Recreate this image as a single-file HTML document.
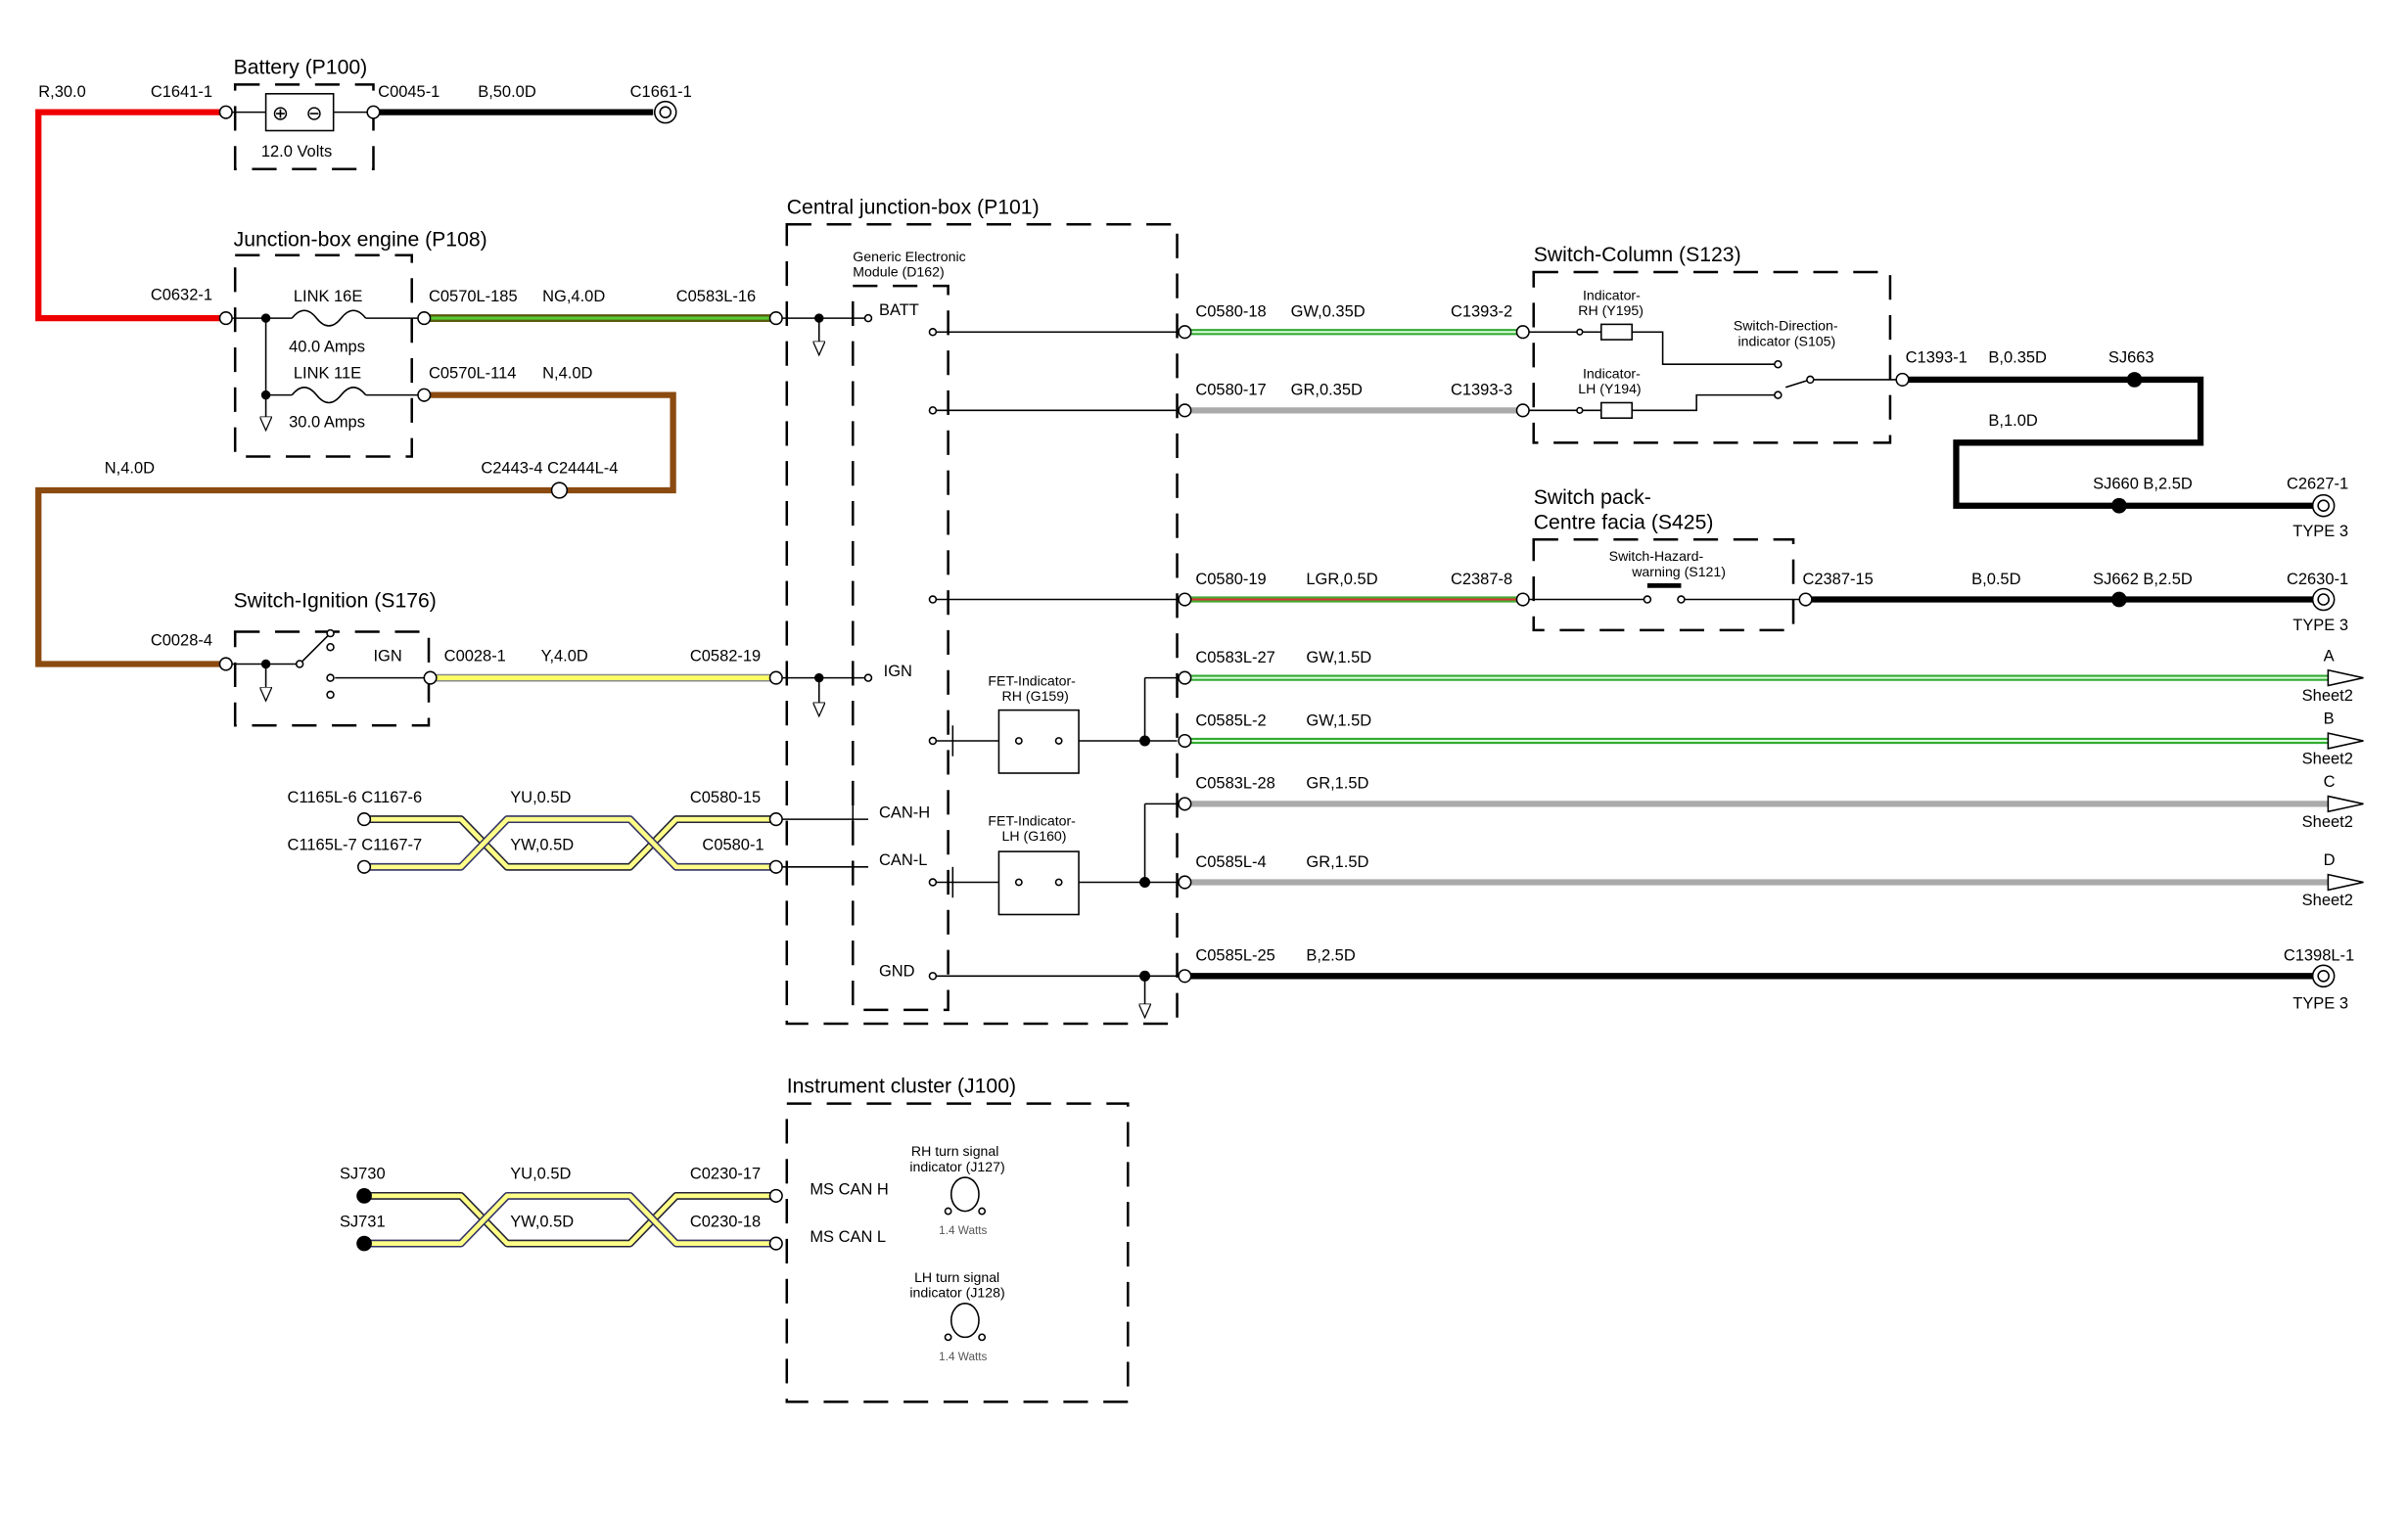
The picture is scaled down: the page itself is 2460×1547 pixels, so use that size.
<!DOCTYPE html>
<html><head><meta charset="utf-8"><style>
html,body{margin:0;padding:0;background:#fff}
svg{display:block}
text{font-family:"Liberation Sans",sans-serif;font-size:10.5px;fill:#000}
.t{font-size:13.5px}
.s{font-size:9px}
.xs{font-size:7.5px;fill:#555}
.d{fill:none;stroke:#000;stroke-width:1.6;stroke-dasharray:16,10}
.l{fill:none;stroke:#000;stroke-width:1}
.c{fill:#fff;stroke:#000;stroke-width:1}
</style></head><body>
<svg width="2460" height="1547" viewBox="0 0 1567 985" preserveAspectRatio="none" xmlns="http://www.w3.org/2000/svg">
<defs>
<marker id="ar" markerWidth="10" markerHeight="8" refX="9" refY="4" orient="auto" markerUnits="userSpaceOnUse"><path d="M0,0 L9,4 L0,8 Z" fill="#fff" stroke="#000" stroke-width="0.8"/></marker>
</defs>
<!-- Battery -->
<text x="152" y="48" class="t">Battery (P100)</text>
<path class="d" d="M153,55 H243 V110 H153 Z"/>
<rect x="173" y="61" width="44" height="24" class="c"/>
<text x="177" y="78" style="font-size:13px">⊕</text><text x="199" y="78" style="font-size:13px">⊖</text>
<line class="l" x1="150" y1="73" x2="173" y2="73"/><line class="l" x1="217" y1="73" x2="240" y2="73"/>
<text x="170" y="102">12.0 Volts</text>
<text x="25" y="63">R,30.0</text><text x="98" y="63">C1641-1</text>
<path d="M146,73 H25 V207 H146" fill="none" stroke="#e00" stroke-width="4"/>
<text x="246" y="63">C0045-1</text><text x="311" y="63">B,50.0D</text><text x="410" y="63">C1661-1</text>
<line x1="243" y1="73" x2="425" y2="73" stroke="#000" stroke-width="4"/>
<circle cx="433" cy="73" r="7" class="c"/><circle cx="433" cy="73" r="3.5" class="c"/>
<!-- Junction box engine -->
<text x="152" y="160" class="t">Junction-box engine (P108)</text>
<path class="d" d="M153,166 H268 V297 H153 Z"/>
<text x="98" y="195">C0632-1</text>
<line class="l" x1="150" y1="207" x2="190" y2="207"/>
<path class="l" d="M190,207 q8,-10 16,0 q8,10 16,0 q8,-10 16,0"/><line class="l" x1="238" y1="207" x2="273" y2="207"/>
<text x="191" y="196">LINK 16E</text><text x="188" y="229">40.0 Amps</text>
<line class="l" x1="173" y1="207" x2="173" y2="280" marker-end="url(#ar)"/>
<circle cx="173" cy="207" r="3" fill="#000"/>
<line class="l" x1="173" y1="257" x2="190" y2="257"/>
<path class="l" d="M190,257 q8,-10 16,0 q8,10 16,0 q8,-10 16,0"/><line class="l" x1="238" y1="257" x2="273" y2="257"/>
<circle cx="173" cy="257" r="3" fill="#000"/>
<text x="191" y="246">LINK 11E</text><text x="188" y="278">30.0 Amps</text>
<line x1="276" y1="207" x2="505" y2="207" stroke="#5a5a10" stroke-width="5"/>
<line x1="276" y1="207" x2="505" y2="207" stroke="#5c3" stroke-width="2"/>
<text x="279" y="196">C0570L-185</text><text x="353" y="196">NG,4.0D</text><text x="440" y="196">C0583L-16</text>
<path d="M276,257 H438 V319 H367 M360,319 H25 V432 H146" fill="none" stroke="#8b4a10" stroke-width="4"/>
<text x="279" y="246">C0570L-114</text><text x="353" y="246">N,4.0D</text>
<text x="313" y="308">C2443-4 C2444L-4</text><text x="68" y="308">N,4.0D</text>
<circle cx="364" cy="319" r="5" class="c"/>
<!-- Ignition -->
<text x="152" y="395" class="t">Switch-Ignition (S176)</text>
<path class="d" d="M153,411 H279 V472 H153 Z"/>
<text x="98" y="420">C0028-4</text>
<line class="l" x1="150" y1="432" x2="195" y2="432"/>
<line class="l" x1="173" y1="432" x2="173" y2="456" marker-end="url(#ar)"/><circle cx="173" cy="432" r="3" fill="#000"/>
<line class="l" x1="195" y1="432" x2="215" y2="412"/>
<circle cx="195" cy="432" r="2.2" class="c"/><circle cx="215" cy="412" r="2.2" class="c"/><circle cx="215" cy="421" r="2.2" class="c"/><circle cx="215" cy="441" r="2.2" class="c"/><circle cx="215" cy="452" r="2.2" class="c"/>
<line class="l" x1="218" y1="441" x2="280" y2="441"/>
<text x="243" y="430">IGN</text>
<text x="289" y="430">C0028-1</text><text x="352" y="430">Y,4.0D</text><text x="449" y="430">C0582-19</text>
<line x1="283" y1="441" x2="505" y2="441" stroke="#888" stroke-width="5"/>
<line x1="283" y1="441" x2="505" y2="441" stroke="#ff6" stroke-width="3"/>
<!-- CAN twisted -->
<text x="187" y="522">C1165L-6 C1167-6</text><text x="187" y="553">C1165L-7 C1167-7</text>
<text x="332" y="522">YU,0.5D</text><text x="332" y="553">YW,0.5D</text>
<text x="449" y="522">C0580-15</text><text x="457" y="553">C0580-1</text>
<g fill="none" stroke-linejoin="round">
<path d="M240,533 H300 L330,564 H410 L440,533 H505" stroke="#223" stroke-width="5"/>
<path d="M240,533 H300 L330,564 H410 L440,533 H505" stroke="#ff8" stroke-width="3"/>
<path d="M240,564 H300 L330,533 H410 L440,564 H505" stroke="#336" stroke-width="5"/>
<path d="M240,564 H300 L330,533 H410 L440,564 H505" stroke="#ff8" stroke-width="3"/>
</g>
<!-- Central junction box -->
<text x="512" y="139" class="t">Central junction-box (P101)</text>
<path class="d" d="M512,146 H766 V666 H512 Z"/>
<path class="d" d="M555,186 H617 V657 H555 Z"/>
<text x="555" y="170" class="s">Generic Electronic</text><text x="555" y="180" class="s">Module (D162)</text>
<text x="572" y="205">BATT</text>
<line class="l" x1="508" y1="207" x2="563" y2="207"/><circle cx="565" cy="207" r="2.2" class="c"/>
<line class="l" x1="533" y1="207" x2="533" y2="231" marker-end="url(#ar)"/><circle cx="533" cy="207" r="3" fill="#000"/>
<line class="l" x1="607" y1="216" x2="766" y2="216"/><circle cx="607" cy="216" r="2.2" class="c"/>
<line class="l" x1="607" y1="267" x2="766" y2="267"/><circle cx="607" cy="267" r="2.2" class="c"/>
<line class="l" x1="607" y1="390" x2="766" y2="390"/><circle cx="607" cy="390" r="2.2" class="c"/>
<text x="575" y="440">IGN</text>
<line class="l" x1="508" y1="441" x2="563" y2="441"/><circle cx="565" cy="441" r="2.2" class="c"/>
<line class="l" x1="533" y1="441" x2="533" y2="466" marker-end="url(#ar)"/><circle cx="533" cy="441" r="3" fill="#000"/>
<text x="643" y="446" class="s">FET-Indicator-</text><text x="652" y="456" class="s">RH (G159)</text>
<rect x="650" y="462" width="52" height="41" class="c"/>
<circle cx="663" cy="482" r="2" class="c"/><circle cx="689" cy="482" r="2" class="c"/>
<line class="l" x1="607" y1="482" x2="650" y2="482"/><circle cx="607" cy="482" r="2.2" class="c"/>
<line class="l" x1="620" y1="472" x2="620" y2="492"/>
<line class="l" x1="702" y1="482" x2="766" y2="482"/>
<line class="l" x1="745" y1="441" x2="745" y2="482"/><line class="l" x1="745" y1="441" x2="766" y2="441"/>
<circle cx="745" cy="482" r="3.5" fill="#000"/>
<text x="572" y="532">CAN-H</text><text x="572" y="563">CAN-L</text>
<line class="l" x1="508" y1="533" x2="565" y2="533"/><line class="l" x1="508" y1="564" x2="565" y2="564"/>
<line class="l" x1="555" y1="523" x2="555" y2="545"/>
<text x="643" y="537" class="s">FET-Indicator-</text><text x="652" y="547" class="s">LH (G160)</text>
<rect x="650" y="554" width="52" height="41" class="c"/>
<circle cx="663" cy="574" r="2" class="c"/><circle cx="689" cy="574" r="2" class="c"/>
<line class="l" x1="607" y1="574" x2="650" y2="574"/><circle cx="607" cy="574" r="2.2" class="c"/>
<line class="l" x1="620" y1="564" x2="620" y2="584"/>
<line class="l" x1="702" y1="574" x2="766" y2="574"/>
<line class="l" x1="745" y1="523" x2="745" y2="574"/><line class="l" x1="745" y1="523" x2="766" y2="523"/>
<circle cx="745" cy="574" r="3.5" fill="#000"/>
<text x="572" y="635">GND</text>
<line class="l" x1="607" y1="635" x2="766" y2="635"/><circle cx="607" cy="635" r="2.2" class="c"/>
<line class="l" x1="745" y1="635" x2="745" y2="662" marker-end="url(#ar)"/><circle cx="745" cy="635" r="3.5" fill="#000"/>
<g>
<circle cx="505" cy="207" r="4" class="c"/><circle cx="505" cy="441" r="4" class="c"/><circle cx="505" cy="533" r="4" class="c"/><circle cx="505" cy="564" r="4" class="c"/>
<circle cx="147" cy="73" r="4" class="c"/><circle cx="243" cy="73" r="4" class="c"/><circle cx="147" cy="207" r="4" class="c"/><circle cx="276" cy="207" r="4" class="c"/><circle cx="276" cy="257" r="4" class="c"/><circle cx="147" cy="432" r="4" class="c"/><circle cx="280" cy="441" r="4" class="c"/>
<circle cx="237" cy="533" r="4" class="c"/><circle cx="237" cy="564" r="4" class="c"/>
</g>
<!-- Right side -->
<text x="778" y="206">C0580-18</text><text x="840" y="206">GW,0.35D</text><text x="944" y="206">C1393-2</text>
<line x1="771" y1="216" x2="991" y2="216" stroke="#3a3" stroke-width="4"/><line x1="771" y1="216" x2="991" y2="216" stroke="#dfd" stroke-width="1.3"/>
<text x="778" y="257">C0580-17</text><text x="840" y="257">GR,0.35D</text><text x="944" y="257">C1393-3</text>
<line x1="771" y1="267" x2="991" y2="267" stroke="#aaa" stroke-width="4"/>
<text x="998" y="170" class="t">Switch-Column (S123)</text>
<path class="d" d="M998,177 H1230 V288 H998 Z"/>
<text x="1030" y="195" class="s">Indicator-</text><text x="1027" y="205" class="s">RH (Y195)</text>
<text x="1030" y="246" class="s">Indicator-</text><text x="1027" y="256" class="s">LH (Y194)</text>
<text x="1128" y="215" class="s">Switch-Direction-</text><text x="1131" y="225" class="s">indicator (S105)</text>
<path class="l" d="M994,216 H1042 M1062,216 H1082 V237 H1157"/>
<rect x="1042" y="211" width="20" height="10" class="c"/>
<path class="l" d="M994,267 H1042 M1062,267 H1104 V257 H1157"/>
<rect x="1042" y="262" width="20" height="10" class="c"/>
<circle cx="1028" cy="216" r="1.8" class="c"/><circle cx="1028" cy="267" r="1.8" class="c"/>
<circle cx="1157" cy="237" r="2.2" class="c"/><circle cx="1157" cy="257" r="2.2" class="c"/>
<line class="l" x1="1162" y1="252" x2="1178" y2="247"/><line class="l" x1="1178" y1="247" x2="1238" y2="247"/><circle cx="1178" cy="247" r="2.2" class="c"/>
<text x="1240" y="236">C1393-1</text><text x="1294" y="236">B,0.35D</text><text x="1372" y="236">SJ663</text>
<path d="M1240,247 H1432 V288 H1273 V329 H1505" fill="none" stroke="#000" stroke-width="4"/>
<text x="1294" y="277">B,1.0D</text><text x="1362" y="318">SJ660 B,2.5D</text><text x="1488" y="318">C2627-1</text><text x="1492" y="349">TYPE 3</text>
<circle cx="1389" cy="247" r="5" fill="#000"/><circle cx="1379" cy="329" r="5" fill="#000"/>
<circle cx="1512" cy="329" r="7" class="c"/><circle cx="1512" cy="329" r="3.5" class="c"/>
<text x="778" y="380">C0580-19</text><text x="850" y="380">LGR,0.5D</text><text x="944" y="380">C2387-8</text>
<line x1="771" y1="390" x2="991" y2="390" stroke="#4a3" stroke-width="4"/><line x1="771" y1="390" x2="991" y2="390" stroke="#d33" stroke-width="1.3"/>
<text x="998" y="328" class="t">Switch pack-</text><text x="998" y="344" class="t">Centre facia (S425)</text>
<path class="d" d="M998,351 H1167 V410 H998 Z"/>
<text x="1047" y="365" class="s">Switch-Hazard-</text><text x="1062" y="375" class="s">warning (S121)</text>
<line x1="1072" y1="381" x2="1094" y2="381" stroke="#000" stroke-width="3"/>
<path class="l" d="M994,390 H1070 M1096,390 H1175"/>
<circle cx="1072" cy="390" r="2.2" class="c"/><circle cx="1094" cy="390" r="2.2" class="c"/>
<text x="1173" y="380">C2387-15</text><text x="1283" y="380">B,0.5D</text><text x="1362" y="380">SJ662 B,2.5D</text><text x="1488" y="380">C2630-1</text><text x="1492" y="410">TYPE 3</text>
<line x1="1178" y1="390" x2="1505" y2="390" stroke="#000" stroke-width="4"/>
<circle cx="1379" cy="390" r="5" fill="#000"/>
<circle cx="1512" cy="390" r="7" class="c"/><circle cx="1512" cy="390" r="3.5" class="c"/>
<text x="778" y="431">C0583L-27</text><text x="850" y="431">GW,1.5D</text><text x="1512" y="430">A</text><text x="1498" y="456">Sheet2</text>
<line x1="771" y1="441" x2="1518" y2="441" stroke="#3a3" stroke-width="4"/><line x1="771" y1="441" x2="1518" y2="441" stroke="#dfd" stroke-width="1.3"/>
<path d="M1515,436 L1538,441 L1515,446 Z" class="c"/>
<text x="778" y="472">C0585L-2</text><text x="850" y="472">GW,1.5D</text><text x="1512" y="471">B</text><text x="1498" y="497">Sheet2</text>
<line x1="771" y1="482" x2="1518" y2="482" stroke="#3a3" stroke-width="4"/><line x1="771" y1="482" x2="1518" y2="482" stroke="#dfd" stroke-width="1.3"/>
<path d="M1515,477 L1538,482 L1515,487 Z" class="c"/>
<text x="778" y="513">C0583L-28</text><text x="850" y="513">GR,1.5D</text><text x="1512" y="512">C</text><text x="1498" y="538">Sheet2</text>
<line x1="771" y1="523" x2="1518" y2="523" stroke="#aaa" stroke-width="4"/>
<path d="M1515,518 L1538,523 L1515,528 Z" class="c"/>
<text x="778" y="564">C0585L-4</text><text x="850" y="564">GR,1.5D</text><text x="1512" y="563">D</text><text x="1498" y="589">Sheet2</text>
<line x1="771" y1="574" x2="1518" y2="574" stroke="#aaa" stroke-width="4"/>
<path d="M1515,569 L1538,574 L1515,579 Z" class="c"/>
<text x="778" y="625">C0585L-25</text><text x="850" y="625">B,2.5D</text><text x="1486" y="625">C1398L-1</text><text x="1492" y="656">TYPE 3</text>
<line x1="771" y1="635" x2="1505" y2="635" stroke="#000" stroke-width="4"/>
<circle cx="1512" cy="635" r="7" class="c"/><circle cx="1512" cy="635" r="3.5" class="c"/>
<g>
<circle cx="771" cy="216" r="4" class="c"/><circle cx="771" cy="267" r="4" class="c"/><circle cx="771" cy="390" r="4" class="c"/><circle cx="771" cy="441" r="4" class="c"/><circle cx="771" cy="482" r="4" class="c"/><circle cx="771" cy="523" r="4" class="c"/><circle cx="771" cy="574" r="4" class="c"/><circle cx="771" cy="635" r="4" class="c"/>
<circle cx="991" cy="216" r="4" class="c"/><circle cx="991" cy="267" r="4" class="c"/><circle cx="991" cy="390" r="4" class="c"/><circle cx="1238" cy="247" r="4" class="c"/><circle cx="1175" cy="390" r="4" class="c"/>
</g>
<!-- Instrument cluster -->
<text x="512" y="711" class="t">Instrument cluster (J100)</text>
<path class="d" d="M512,718 H734 V912 H512 Z"/>
<text x="221" y="767">SJ730</text><text x="221" y="798">SJ731</text>
<text x="332" y="767">YU,0.5D</text><text x="332" y="798">YW,0.5D</text>
<text x="449" y="767">C0230-17</text><text x="449" y="798">C0230-18</text>
<g fill="none" stroke-linejoin="round">
<path d="M237,778 H300 L330,809 H410 L440,778 H505" stroke="#223" stroke-width="5"/>
<path d="M237,778 H300 L330,809 H410 L440,778 H505" stroke="#ff8" stroke-width="3"/>
<path d="M237,809 H300 L330,778 H410 L440,809 H505" stroke="#336" stroke-width="5"/>
<path d="M237,809 H300 L330,778 H410 L440,809 H505" stroke="#ff8" stroke-width="3"/>
</g>
<circle cx="237" cy="778" r="5" fill="#000"/><circle cx="237" cy="809" r="5" fill="#000"/>
<circle cx="505" cy="778" r="4" class="c"/><circle cx="505" cy="809" r="4" class="c"/>
<text x="527" y="777">MS CAN H</text><text x="527" y="808">MS CAN L</text>
<text x="593" y="752" class="s">RH turn signal</text><text x="592" y="762" class="s">indicator (J127)</text>
<ellipse cx="628" cy="777" rx="9" ry="11" class="c"/><circle cx="617" cy="788" r="2" class="c"/><circle cx="639" cy="788" r="2" class="c"/>
<text x="611" y="803" class="xs">1.4 Watts</text>
<text x="595" y="834" class="s">LH turn signal</text><text x="592" y="844" class="s">indicator (J128)</text>
<ellipse cx="628" cy="859" rx="9" ry="11" class="c"/><circle cx="617" cy="870" r="2" class="c"/><circle cx="639" cy="870" r="2" class="c"/>
<text x="611" y="885" class="xs">1.4 Watts</text>
</svg>
</body></html>
